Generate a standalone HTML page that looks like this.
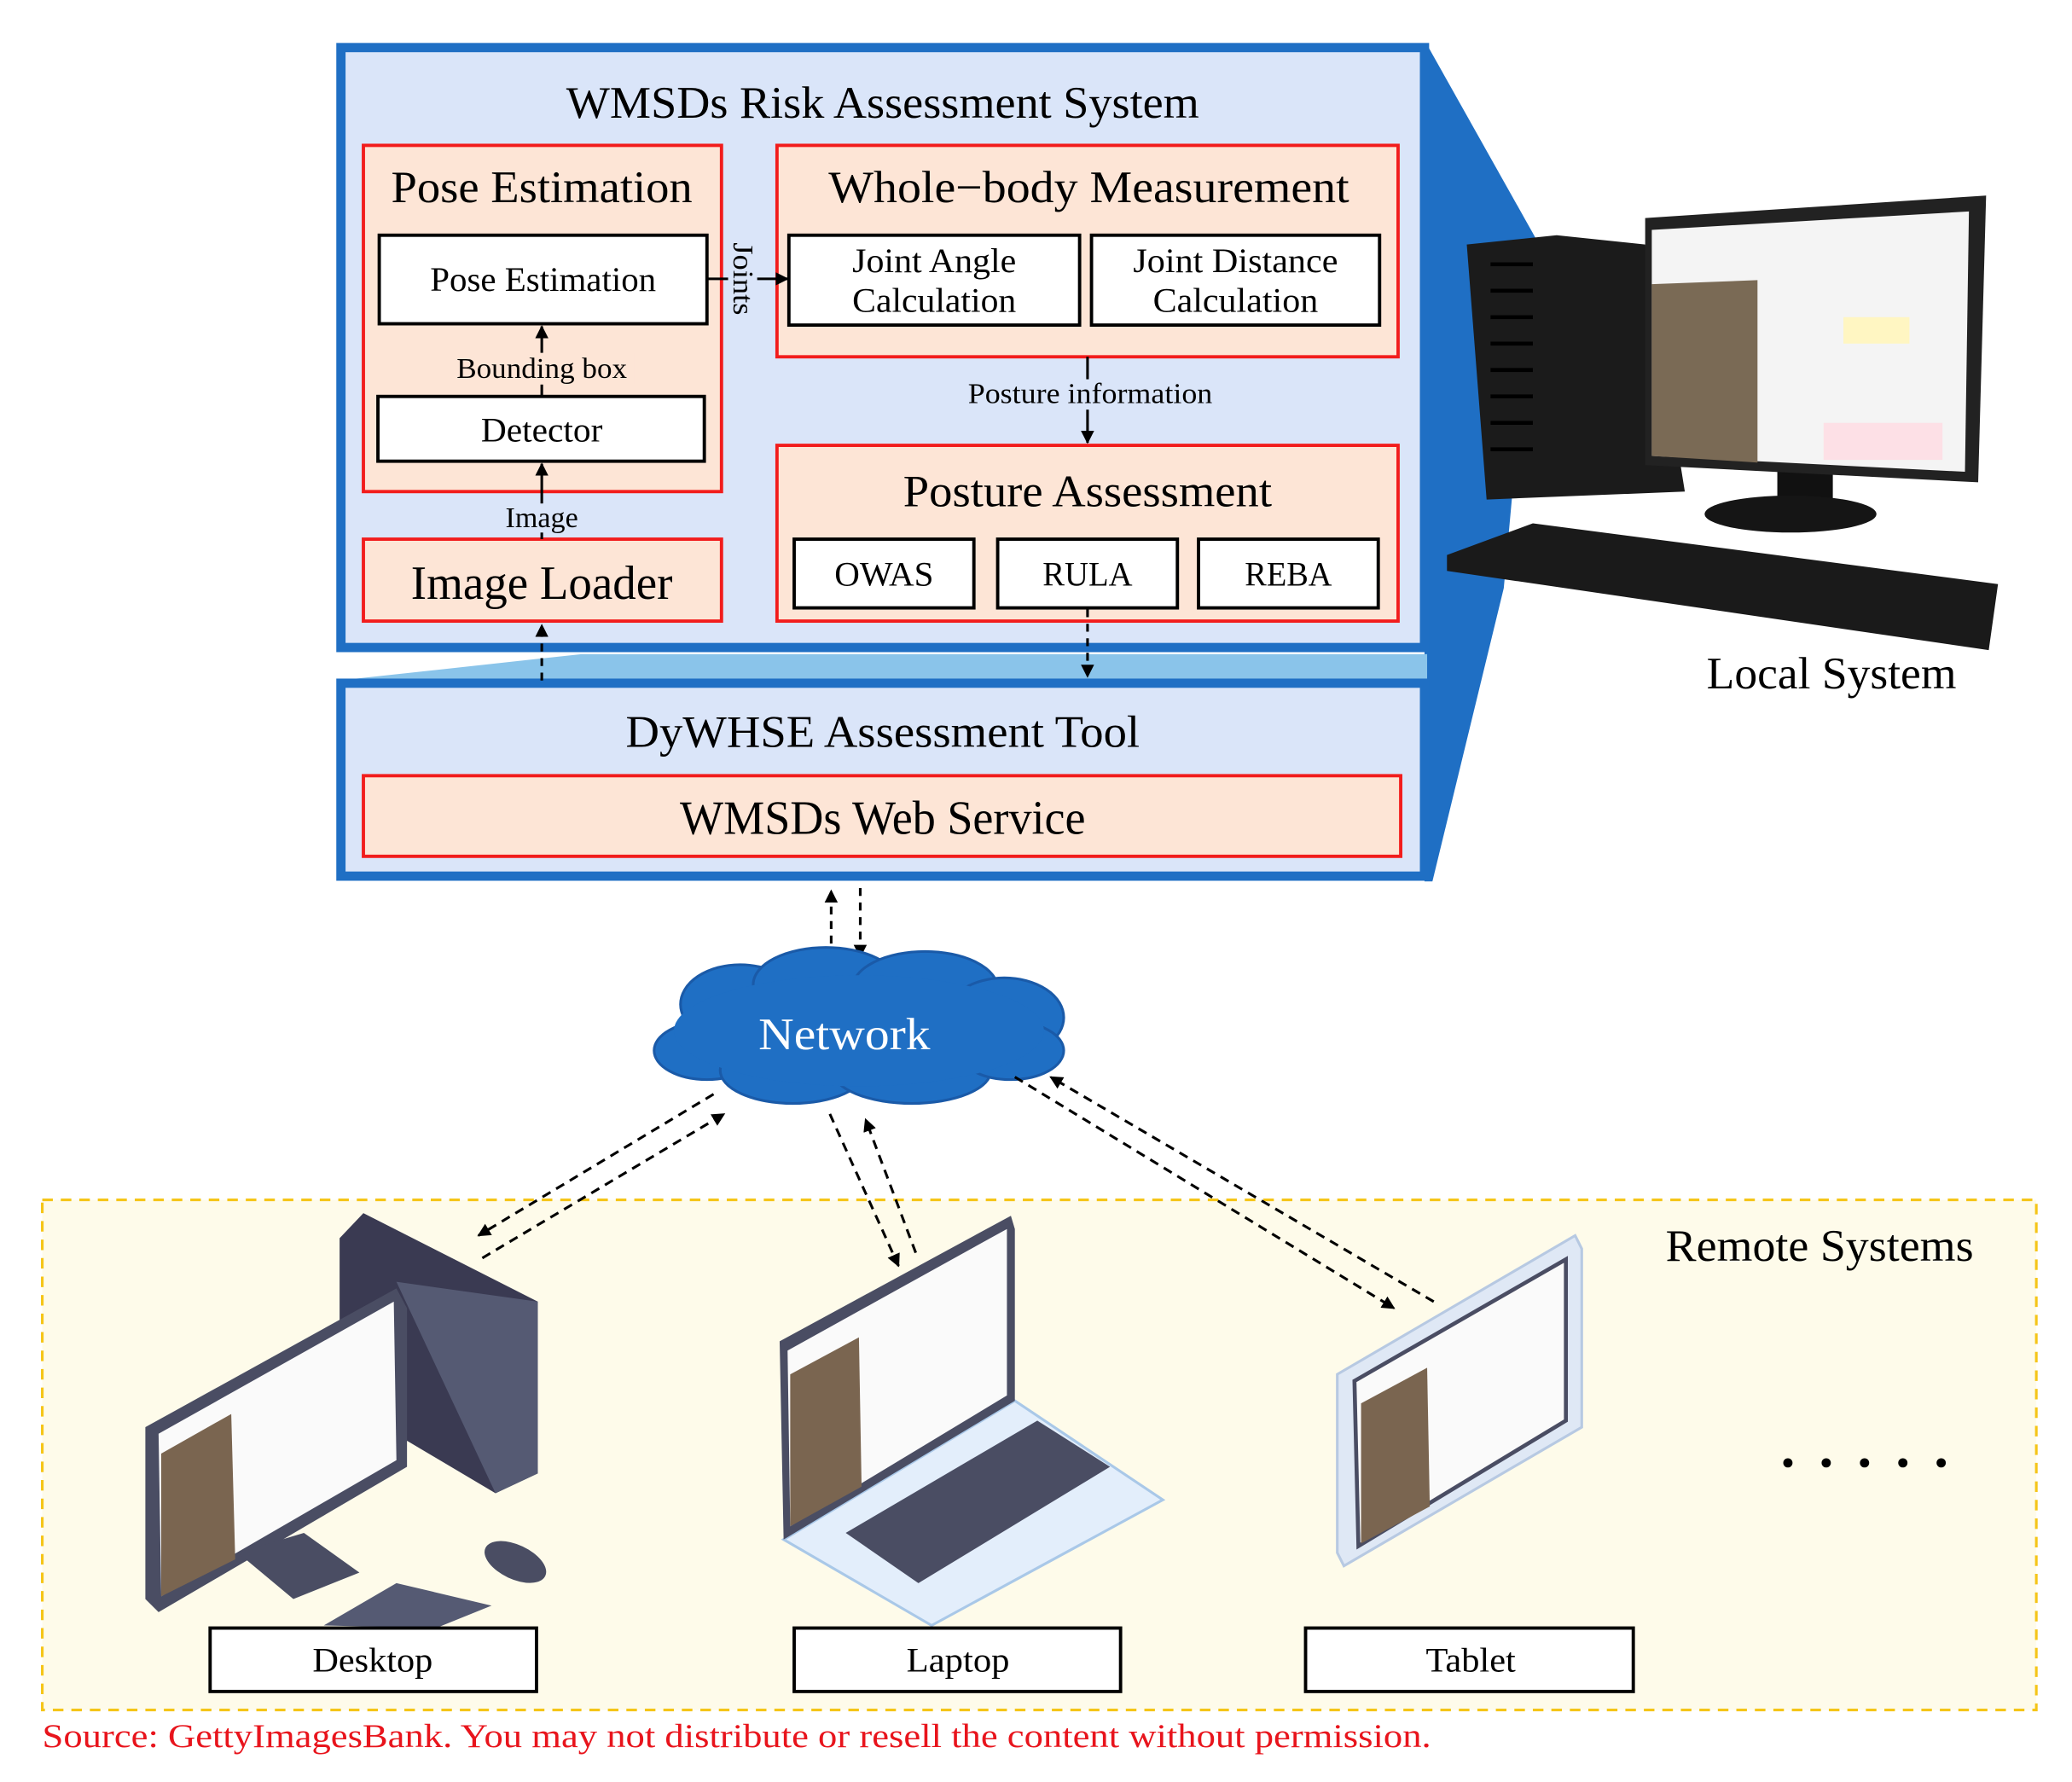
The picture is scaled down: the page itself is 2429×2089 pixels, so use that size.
<!DOCTYPE html>
<html><head><meta charset="utf-8"><style>
html,body{margin:0;padding:0;background:#fff;}
svg{display:block;}
text{font-family:"Liberation Serif",serif;fill:#000;}
</style></head><body>
<svg width="2429" height="2089" viewBox="0 0 1568 1348.5" preserveAspectRatio="none" xmlns="http://www.w3.org/2000/svg">
<defs>
<marker id="ah" viewBox="0 0 10 10" refX="9" refY="5" markerWidth="5" markerHeight="5" orient="auto"><path d="M0,0 L10,5 L0,10 z" fill="#000"/></marker>
</defs>
<rect width="1568" height="1348.5" fill="#fff"/>
<polygon points="1080,34 1162,180 1138,445 1084,667 1078,667 1078,34" fill="#1f6fc4"/>
<polygon points="256,515 440,495 1080,495 1080,515" fill="#8ac4ea"/>
<rect x="258" y="36" width="820" height="454" fill="#dae5f9" stroke="#1f6fc4" stroke-width="7"/>
<rect x="258" y="517" width="820" height="146" fill="#dae5f9" stroke="#1f6fc4" stroke-width="7"/>
<text x="668" y="89" font-size="34" text-anchor="middle" textLength="479" lengthAdjust="spacingAndGlyphs">WMSDs Risk Assessment System</text>
<rect x="275" y="110" width="271" height="262" fill="#fde5d6" stroke="#f21c1c" stroke-width="2.5"/>
<text x="410" y="153" font-size="34" text-anchor="middle" textLength="228" lengthAdjust="spacingAndGlyphs">Pose Estimation</text>
<rect x="287" y="178" width="248" height="67" fill="#fff" stroke="#000" stroke-width="2.5"/>
<text x="411" y="220" font-size="26" text-anchor="middle" textLength="171" lengthAdjust="spacingAndGlyphs">Pose Estimation</text>
<rect x="286" y="300" width="247" height="49" fill="#fff" stroke="#000" stroke-width="2.5"/>
<text x="410" y="334" font-size="26" text-anchor="middle" textLength="92" lengthAdjust="spacingAndGlyphs">Detector</text>
<line x1="410" y1="300" x2="410" y2="247" stroke="#000" stroke-width="2" marker-end="url(#ah)"/>
<rect x="340" y="267" width="140" height="24" fill="#fde5d6"/>
<text x="410" y="286" font-size="22" text-anchor="middle" textLength="129" lengthAdjust="spacingAndGlyphs">Bounding box</text>
<rect x="275" y="408" width="271" height="62" fill="#fde5d6" stroke="#f21c1c" stroke-width="2.5"/>
<text x="410" y="453" font-size="36" text-anchor="middle" textLength="198" lengthAdjust="spacingAndGlyphs">Image Loader</text>
<line x1="410" y1="408" x2="410" y2="351" stroke="#000" stroke-width="2" marker-end="url(#ah)"/>
<rect x="380" y="381" width="60" height="22" fill="#dae5f9"/>
<text x="410" y="399" font-size="22" text-anchor="middle" textLength="55" lengthAdjust="spacingAndGlyphs">Image</text>
<rect x="588" y="110" width="470" height="160" fill="#fde5d6" stroke="#f21c1c" stroke-width="2.5"/>
<line x1="535" y1="211" x2="551" y2="211" stroke="#000" stroke-width="2"/>
<line x1="573" y1="211" x2="596" y2="211" stroke="#000" stroke-width="2" marker-end="url(#ah)"/>
<text transform="translate(555,211) rotate(90)" font-size="22" text-anchor="middle" textLength="55" lengthAdjust="spacingAndGlyphs">Joints</text>
<text x="824" y="153" font-size="34" text-anchor="middle" textLength="394" lengthAdjust="spacingAndGlyphs">Whole−body Measurement</text>
<rect x="597" y="178" width="220" height="68" fill="#fff" stroke="#000" stroke-width="2.5"/>
<text x="707" y="206" font-size="26" text-anchor="middle" textLength="124" lengthAdjust="spacingAndGlyphs">Joint Angle</text>
<text x="707" y="236" font-size="26" text-anchor="middle" textLength="124" lengthAdjust="spacingAndGlyphs">Calculation</text>
<rect x="826" y="178" width="218" height="68" fill="#fff" stroke="#000" stroke-width="2.5"/>
<text x="935" y="206" font-size="26" text-anchor="middle" textLength="155" lengthAdjust="spacingAndGlyphs">Joint Distance</text>
<text x="935" y="236" font-size="26" text-anchor="middle" textLength="125" lengthAdjust="spacingAndGlyphs">Calculation</text>
<line x1="823" y1="270" x2="823" y2="335" stroke="#000" stroke-width="2" marker-end="url(#ah)"/>
<rect x="730" y="287" width="190" height="23" fill="#dae5f9"/>
<text x="825" y="305" font-size="22" text-anchor="middle" textLength="185" lengthAdjust="spacingAndGlyphs">Posture information</text>
<rect x="588" y="337" width="470" height="133" fill="#fde5d6" stroke="#f21c1c" stroke-width="2.5"/>
<text x="823" y="383" font-size="34" text-anchor="middle" textLength="279" lengthAdjust="spacingAndGlyphs">Posture Assessment</text>
<rect x="601" y="408" width="136" height="52" fill="#fff" stroke="#000" stroke-width="2.5"/>
<text x="669" y="443" font-size="26" text-anchor="middle" textLength="75" lengthAdjust="spacingAndGlyphs">OWAS</text>
<rect x="755" y="408" width="136" height="52" fill="#fff" stroke="#000" stroke-width="2.5"/>
<text x="823" y="443" font-size="26" text-anchor="middle" textLength="68" lengthAdjust="spacingAndGlyphs">RULA</text>
<rect x="907" y="408" width="136" height="52" fill="#fff" stroke="#000" stroke-width="2.5"/>
<text x="975" y="443" font-size="26" text-anchor="middle" textLength="66" lengthAdjust="spacingAndGlyphs">REBA</text>
<line x1="823" y1="461" x2="823" y2="512" stroke="#000" stroke-width="2" stroke-dasharray="6,5" marker-end="url(#ah)"/>
<line x1="410" y1="515" x2="410" y2="473" stroke="#000" stroke-width="2" stroke-dasharray="6,5" marker-end="url(#ah)"/>
<text x="668" y="565" font-size="34" text-anchor="middle" textLength="389" lengthAdjust="spacingAndGlyphs">DyWHSE Assessment Tool</text>
<rect x="275" y="587" width="785" height="61" fill="#fde5d6" stroke="#f21c1c" stroke-width="2.5"/>
<text x="668" y="631" font-size="36" text-anchor="middle" textLength="307" lengthAdjust="spacingAndGlyphs">WMSDs Web Service</text>
<line x1="629" y1="725" x2="629" y2="674" stroke="#000" stroke-width="2" stroke-dasharray="6,5" marker-end="url(#ah)"/>
<line x1="651" y1="672" x2="651" y2="724" stroke="#000" stroke-width="2" stroke-dasharray="6,5" marker-end="url(#ah)"/>
<g fill="#1f6fc4" stroke="#1a5aa8" stroke-width="2">
<ellipse cx="560" cy="760" rx="45" ry="30"/>
<ellipse cx="625" cy="745" rx="55" ry="28"/>
<ellipse cx="700" cy="748" rx="55" ry="28"/>
<ellipse cx="760" cy="770" rx="45" ry="30"/>
<ellipse cx="535" cy="795" rx="40" ry="22"/>
<ellipse cx="600" cy="810" rx="55" ry="25"/>
<ellipse cx="690" cy="810" rx="60" ry="25"/>
<ellipse cx="765" cy="795" rx="40" ry="22"/>
</g>
<ellipse cx="650" cy="780" rx="140" ry="42" fill="#1f6fc4"/>
<text x="639" y="794" font-size="34" text-anchor="middle" style="fill:#fff" textLength="130" lengthAdjust="spacingAndGlyphs">Network</text>
<rect x="32" y="908" width="1509" height="386" fill="#fefbea" stroke="#f5c518" stroke-width="2" stroke-dasharray="8,6"/>
<text x="1377" y="954" font-size="34" text-anchor="middle" textLength="233" lengthAdjust="spacingAndGlyphs">Remote Systems</text>
<g stroke="#000" stroke-width="2" stroke-dasharray="7,5">
<line x1="540" y1="828" x2="362" y2="935" marker-end="url(#ah)"/>
<line x1="365" y1="952" x2="548" y2="843" marker-end="url(#ah)"/>
<line x1="628" y1="843" x2="680" y2="958" marker-end="url(#ah)"/>
<line x1="693" y1="948" x2="655" y2="847" marker-end="url(#ah)"/>
<line x1="768" y1="815" x2="1055" y2="990" marker-end="url(#ah)"/>
<line x1="1085" y1="985" x2="795" y2="815" marker-end="url(#ah)"/>
</g>
<polygon points="1110,185 1178,178 1245,185 1275,372 1125,378" fill="#1b1b1b"/>
<g stroke="#000" stroke-width="3"><line x1="1128" y1="200" x2="1160" y2="200"/><line x1="1128" y1="220" x2="1160" y2="220"/><line x1="1128" y1="240" x2="1160" y2="240"/><line x1="1128" y1="260" x2="1160" y2="260"/><line x1="1128" y1="280" x2="1160" y2="280"/><line x1="1128" y1="300" x2="1160" y2="300"/><line x1="1128" y1="320" x2="1160" y2="320"/><line x1="1128" y1="340" x2="1160" y2="340"/></g>
<rect x="1345" y="348" width="42" height="38" fill="#111"/>
<ellipse cx="1355" cy="389" rx="65" ry="14" fill="#151515"/>
<polygon points="1245,165 1503,148 1497,365 1245,352" fill="#222"/>
<polygon points="1250,174 1490,160 1487,357 1250,345" fill="#f4f4f4"/>
<polygon points="1250,215 1330,212 1330,350 1250,345" fill="#7a6a55"/>
<rect x="1395" y="240" width="50" height="20" fill="#fff6c2"/>
<rect x="1380" y="320" width="90" height="28" fill="#fde0e6"/>
<polygon points="1095,420 1160,396 1512,442 1505,492 1095,432" fill="#1a1a1a"/>
<text x="1386" y="521" font-size="34" text-anchor="middle" textLength="189" lengthAdjust="spacingAndGlyphs">Local System</text>
<polygon points="257,937 275,918 407,985 407,1115 375,1130 257,1060" fill="#3a3a52"/>
<polygon points="300,970 407,985 407,1115 375,1130" fill="#555a73"/>
<polygon points="110,1080 300,975 308,990 308,1110 120,1220 110,1210" fill="#4a4d63"/>
<polygon points="120,1085 298,985 300,1105 122,1208" fill="#fafafa"/>
<polygon points="122,1100 175,1070 178,1180 122,1208" fill="#7a6550"/>
<polygon points="180,1175 230,1160 272,1190 222,1210" fill="#4a4d63"/>
<polygon points="245,1230 300,1198 372,1215 330,1232" fill="#555a73"/>
<ellipse cx="390" cy="1182" rx="25" ry="13" fill="#4a4d63" transform="rotate(25 390 1182)"/>
<polygon points="593,1165 768,1060 880,1135 705,1230" fill="#e3eefb" stroke="#a9c8e8" stroke-width="2"/>
<polygon points="640,1160 785,1075 840,1110 695,1198" fill="#4a4d63"/>
<polygon points="590,1015 765,920 768,930 768,1060 593,1165" fill="#4a4d63"/>
<polygon points="596,1022 762,930 762,1056 598,1155" fill="#fafafa"/>
<polygon points="598,1040 650,1012 652,1125 598,1155" fill="#7a6550"/>
<polygon points="1012,1040 1192,935 1197,945 1197,1080 1017,1185 1012,1175" fill="#dfe8f5" stroke="#b7c9e2" stroke-width="2"/>
<polygon points="1025,1045 1185,953 1185,1075 1028,1170" fill="#fafafa" stroke="#4a4d63" stroke-width="3"/>
<polygon points="1030,1062 1080,1035 1082,1140 1030,1168" fill="#7a6550"/>
<rect x="159" y="1232" width="247" height="48" fill="#fff" stroke="#000" stroke-width="2.5"/>
<text x="282" y="1265" font-size="26" text-anchor="middle" textLength="91" lengthAdjust="spacingAndGlyphs">Desktop</text>
<rect x="601" y="1232" width="247" height="48" fill="#fff" stroke="#000" stroke-width="2.5"/>
<text x="725" y="1265" font-size="26" text-anchor="middle" textLength="78" lengthAdjust="spacingAndGlyphs">Laptop</text>
<rect x="988" y="1232" width="248" height="48" fill="#fff" stroke="#000" stroke-width="2.5"/>
<text x="1113" y="1265" font-size="26" text-anchor="middle" textLength="68" lengthAdjust="spacingAndGlyphs">Tablet</text>
<g fill="#000"><circle cx="1353" cy="1107" r="3.5"/><circle cx="1382" cy="1107" r="3.5"/><circle cx="1411" cy="1107" r="3.5"/><circle cx="1440" cy="1107" r="3.5"/><circle cx="1469" cy="1107" r="3.5"/></g>
<text x="32" y="1322" font-size="25" style="fill:#e8141c" textLength="1051" lengthAdjust="spacingAndGlyphs">Source: GettyImagesBank. You may not distribute or resell the content without permission.</text>
</svg>
</body></html>
